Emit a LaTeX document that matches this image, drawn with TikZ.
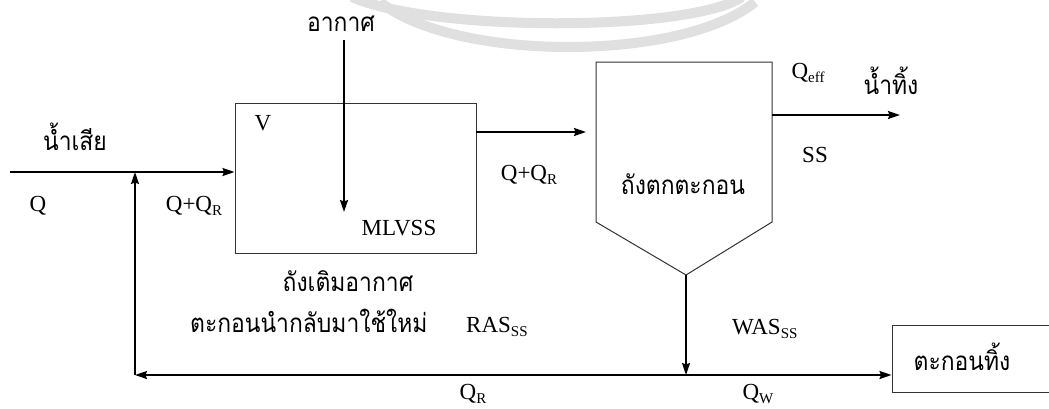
\documentclass[tikz,border=0pt]{standalone}
\usepackage{fontspec}
\setmainfont{Liberation Serif}
\newfontfamily\thaifont[Script=Thai,FakeStretch=0.88]{Loma}
\usetikzlibrary{arrows.meta}
\newcommand\lowsub[1]{\raisebox{-0.15em}{\fontsize{15}{15}\selectfont #1}}
\begin{document}
\begin{tikzpicture}[x=1pt,y=-1pt,
  every node/.style={inner sep=0pt, font=\fontsize{23}{26}\selectfont},
  thtext/.style={font=\thaifont\fontsize{26}{30}\selectfont},
  flow/.style={line width=1.6pt, -{Stealth[length=12pt,width=8pt,inset=1.5pt]}},
  tank/.style={draw=black!80, line width=1pt},
  wm/.style={draw=black!12, line width=10pt}]
\useasboundingbox[fill=white] (0,0) rectangle (1049,408);
% watermark arcs
\draw[wm] (352,-3) .. controls (430,32) and (690,32) .. (742,-3);
\draw[wm] (380,2) .. controls (455,62) and (682,62) .. (755,2);
% tanks
\node[tank, minimum width=241pt, minimum height=150pt] (aer) at (355.5,178) {};
\coordinate (c1) at (596,62);
\coordinate (c2) at (772,62);
\coordinate (c3) at (772,222);
\coordinate (apex) at (686,275);
\coordinate (c4) at (596,222);
\draw[tank] (c1) -- (c2) -- (c3) -- (apex) -- (c4) -- cycle;
\node[tank, minimum width=170pt, minimum height=67pt] (waste) at (977,358.5) {};
% coordinates
\coordinate (inL) at (10,172);
\coordinate (jin) at (135,172);
\coordinate (corner) at (135,375);
\coordinate (jw) at (686,375);
\coordinate (airT) at (344,40);
\coordinate (airB) at (344,212);
\coordinate (outS) at (476,132);
\coordinate (outE) at (586,132);
\coordinate (effS) at (772,115);
\coordinate (effE) at (900,115);
% connectors
\draw[flow] (inL) -- (inL -| aer.west);
\draw[flow] (airT) -- (airB);
\draw[flow] (outS) -- (outE);
\draw[flow] (effS) -- (effE);
\draw[flow] (apex) -- (jw);
\draw[flow] (jw) -- (corner);
\draw[flow] (corner) -- (jin);
\draw[flow] (jw) -- (jw -| waste.west);
% labels
\node[thtext] (air) at (341,24) {อากาศ};
\node[thtext] (ww) at (75,137) {น้ำเสีย};
\node (q) at (38,206) {Q};
\node (qq1) at (194,206) {Q+Q\lowsub{R}};
\node (v) at (263,123) {V};
\node (mlvss) at (399,228) {MLVSS};
\node[thtext] (aerlbl) at (348,281) {ถังเติมอากาศ};
\node[thtext, anchor=west] (ras) at (190,321) {ตะกอนนำกลับมาใช้ใหม่};
\node[anchor=west] (rasss) at (466,327) {RAS\lowsub{SS}};
\node (qr) at (473,394) {Q\lowsub{R}};
\node (qq2) at (529,175) {Q+Q\lowsub{R}};
\node[thtext] (clar) at (683,184) {ถังตกตะกอน};
\node (qeff) at (808,73) {Q\lowsub{eff}};
\node[thtext] (eff) at (891,81) {น้ำทิ้ง};
\node (ss) at (815,155) {SS};
\node[anchor=west] (wasss) at (732,329) {WAS\lowsub{SS}};
\node (qw) at (758,394) {Q\lowsub{W}};
\node[thtext] (wlbl) at (962,357) {ตะกอนทิ้ง};
\end{tikzpicture}
\end{document}
